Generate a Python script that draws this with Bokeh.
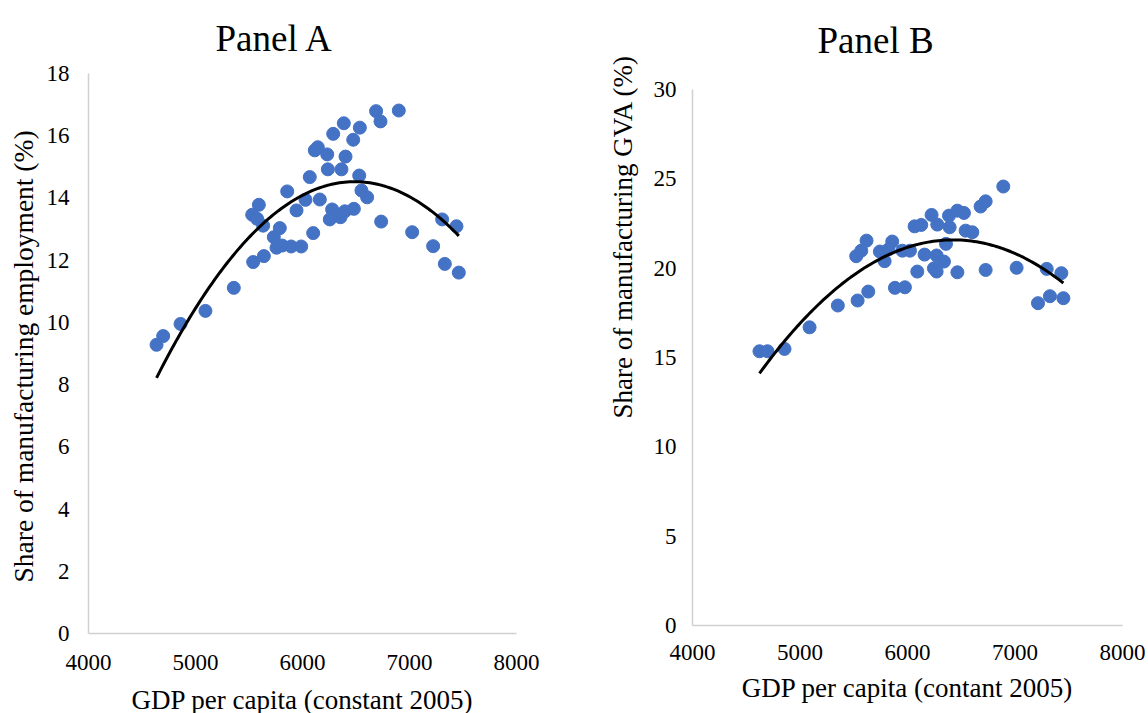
import numpy as np
from bokeh.plotting import figure
from bokeh.layouts import row
from bokeh.models import Range1d, FixedTicker, Title
from bokeh.embed import file_html
from bokeh.resources import INLINE

# ---------------- data ----------------
gdp_a = [4636, 4698, 4860, 5093, 5358, 5539, 5639, 5530, 5592, 5576,
         5632, 5732, 5788, 5757, 5810, 5894, 5988, 5857, 5944, 6028,
         6100, 6068, 6115, 6143, 6162, 6231, 6237, 6287, 6277, 6255,
         6355, 6396, 6364, 6402, 6386, 6480, 6474, 6536, 6530, 6551,
         6604, 6688, 6729, 6735, 6900, 7025, 7221, 7305, 7330, 7439, 7461]
emp_a = [9.28, 9.56, 9.95, 10.37, 11.11, 11.94, 12.13, 13.46, 13.78, 13.33,
         13.11, 12.74, 13.03, 12.40, 12.47, 12.44, 12.44, 14.21, 13.60, 13.94,
         12.87, 14.67, 15.53, 15.63, 13.95, 15.40, 14.92, 16.06, 13.63, 13.31,
         13.38, 13.57, 14.92, 15.33, 16.40, 13.65, 15.87, 16.26, 14.72, 14.24,
         14.02, 16.79, 16.46, 13.24, 16.81, 12.90, 12.45, 13.31, 11.88, 13.09, 11.60]

gdp_b = [4623, 4698, 4856, 5089, 5352, 5536, 5635, 5883, 5976, 5523,
         5570, 5619, 5743, 5787, 5858, 5821, 5952, 6023, 6066, 6128,
         6091, 6159, 6224, 6277, 6271, 6246, 6271, 6339, 6358, 6386,
         6392, 6464, 6464, 6525, 6541, 6603, 6727, 7015, 6680, 6727,
         6891, 7295, 7431, 7214, 7325, 7450]
gva_b = [15.35, 15.35, 15.48, 16.69, 17.91, 18.19, 18.69, 18.90, 18.93, 20.67,
         20.98, 21.54, 20.93, 20.39, 21.49, 21.04, 20.98, 20.98, 22.34, 22.42,
         19.81, 20.76, 22.98, 22.44, 20.71, 19.99, 19.81, 20.37, 21.36, 22.94,
         22.29, 23.22, 19.77, 23.09, 22.10, 22.01, 19.90, 20.02, 23.45, 23.74,
         24.57, 19.96, 19.72, 18.04, 18.43, 18.32]

x_ticks = [4000, 5000, 6000, 7000, 8000]
y_ticks_a = [0, 2, 4, 6, 8, 10, 12, 14, 16, 18]
y_ticks_b = [0, 5, 10, 15, 20, 25, 30]

title_a = "Panel A"
title_b = "Panel B"
xlabel_a = "GDP per capita (constant 2005)"
xlabel_b = "GDP per capita (contant 2005)"
ylabel_a = "Share of manufacturing employment (%)"
ylabel_b = "Share of manufacturing GVA (%)"

FONT = "Liberation Serif"
DOT = "#4472C4"
AXIS = "#D0D0D0"


def trend(xs, ys):
    coef = np.polyfit(xs, ys, 2)
    xx = np.linspace(min(xs), max(xs), 120)
    return xx, np.polyval(coef, xx)


def base_fig(frame_w, frame_h, b_left, b_right, b_bottom, y_range, yticks, ybounds):
    p = figure(frame_width=frame_w, frame_height=frame_h,
               x_range=Range1d(4000, 8000), y_range=y_range,
               output_backend="svg", toolbar_location=None,
               min_border_left=b_left, min_border_right=b_right,
               min_border_top=73, min_border_bottom=b_bottom)
    p.outline_line_color = None
    p.grid.visible = False
    p.background_fill_color = "white"
    p.border_fill_color = "white"
    p.xaxis.ticker = FixedTicker(ticks=x_ticks)
    p.yaxis.ticker = FixedTicker(ticks=yticks)
    p.yaxis.bounds = ybounds
    for ax in (p.xaxis[0], p.yaxis[0]):
        ax.axis_line_color = AXIS
        ax.axis_line_width = 1.5
        ax.major_tick_line_color = None
        ax.minor_tick_line_color = None
        ax.major_tick_in = 0
        ax.major_tick_out = 0
        ax.minor_tick_in = 0
        ax.minor_tick_out = 0
        ax.major_label_text_font = FONT
        ax.major_label_text_font_size = "23px"
        ax.major_label_text_color = "black"
        ax.axis_label_text_font = FONT
        ax.axis_label_text_font_size = "27px"
        ax.axis_label_text_font_style = "normal"
        ax.axis_label_text_color = "black"
    return p


def title(text, offset, standoff, size="37px"):
    return Title(text=text, align="left", offset=offset, standoff=standoff,
                 text_font=FONT, text_font_size=size,
                 text_font_style="normal", text_color="black")


# ---------------- Panel A ----------------
pa = base_fig(428, 560, 88, 64, 80, Range1d(0, 18), y_ticks_a, (0, 18))
pa.xaxis.axis_label = xlabel_a
pa.yaxis.major_label_standoff = 19
pa.xaxis.major_label_standoff = 21
pa.xaxis.axis_label_standoff = 12
pa.add_layout(title(title_a, 127, 30), "above")
pa.add_layout(title(ylabel_a, 51, 10, size="27.5px"), "left")
pa.scatter(gdp_a, emp_a, size=13, fill_color=DOT, line_color=DOT)
ta_x, ta_y = trend(gdp_a, emp_a)
pa.line(ta_x, ta_y, line_color="black", line_width=3)

# ---------------- Panel B ----------------
# Panel B's axes start a little lower than Panel A's (the frames are top-aligned
# by the row layout), so its range is padded above 30 and its y axis bounded.
pb = base_fig(430, 552, 112, 26, 88, Range1d(0, 30.8955), y_ticks_b, (0, 30))
pb.xaxis.axis_label = xlabel_b
pb.yaxis.major_label_standoff = 16
pb.xaxis.major_label_standoff = 19
pb.xaxis.axis_label_standoff = 10
pb.add_layout(title(title_b, 125, 25), "above")
pb.add_layout(title(ylabel_b, 207, 26, size="27px"), "left")
pb.scatter(gdp_b, gva_b, size=13, fill_color=DOT, line_color=DOT)
tb_x, tb_y = trend(gdp_b, gva_b)
pb.line(tb_x, tb_y, line_color="black", line_width=3)

layout = row(pa, pb)
open("out.html", "w").write(file_html(layout, INLINE))
